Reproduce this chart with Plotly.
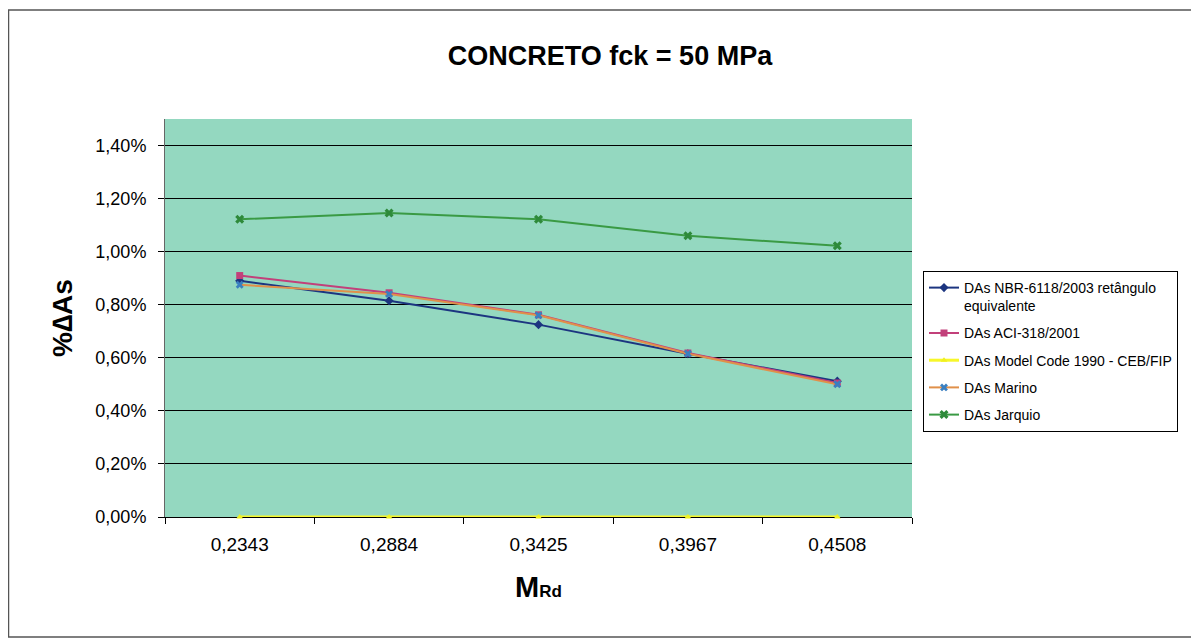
import plotly.graph_objects as go

categories = ["0,2343", "0,2884", "0,3425", "0,3967", "0,4508"]
nbr = [0.0089, 0.00815, 0.00725, 0.00615, 0.00512]
aci = [0.0091, 0.00845, 0.00762, 0.00618, 0.00505]
model_code = [0.0, 0.0, 0.0, 0.0, 0.0]
marino = [0.00875, 0.0084, 0.0076, 0.00615, 0.00500]
jarquio = [0.01122, 0.01146, 0.01122, 0.0106, 0.01022]

FONT = "Arial, Liberation Sans, sans-serif"

fig = go.Figure()
fig.add_trace(go.Scatter(x=categories, y=nbr, mode="lines+markers",
                         name="DAs NBR-6118/2003 retângulo<br>equivalente",
                         legendgroup="a",
                         line=dict(color="#1c3580", width=2),
                         marker=dict(symbol="diamond", size=7, color="#1c3580")))
fig.add_trace(go.Scatter(x=categories, y=aci, mode="lines+markers",
                         name="DAs ACI-318/2001", legendgroup="b",
                         line=dict(color="#c2407a", width=2),
                         marker=dict(symbol="square", size=7, color="#c2407a")))
fig.add_trace(go.Scatter(x=categories, y=model_code, mode="lines+markers",
                         name="DAs Model Code 1990 - CEB/FIP", legendgroup="c",
                         cliponaxis=False,
                         line=dict(color="#f7f72a", width=3),
                         marker=dict(symbol="triangle-up", size=6, color="#f0f020")))
fig.add_trace(go.Scatter(x=categories, y=marino, mode="lines+markers",
                         name="DAs Marino", legendgroup="d",
                         line=dict(color="#e0904a", width=2),
                         marker=dict(symbol="x", size=7, color="#3a7fc0")))
fig.add_trace(go.Scatter(x=categories, y=jarquio, mode="lines+markers",
                         name="DAs Jarquio", legendgroup="e",
                         line=dict(color="#3a9a44", width=2),
                         marker=dict(symbol="x", size=8, color="#2e8a3a")))

OFF = 8  # page body margin
W, H = 1191, 634
L, T = 165 - OFF, 119 - OFF
R = W - (912 - OFF)
B = H - (517 - OFF)
pw, ph = W - L - R, H - T - B


def px_x(x):
    return (x - OFF - L) / pw


def px_y(y):
    return (H - B - (y - OFF)) / ph


fig.update_layout(
    width=W, height=H,
    margin=dict(l=L, r=R, t=T, b=B),
    paper_bgcolor="white",
    plot_bgcolor="#94d8c0",
    separators=",.",
    font=dict(family=FONT, size=18, color="black"),
    title=dict(text="<b>CONCRETO fck = 50 MPa</b>", x=(610 - OFF) / W,
               xanchor="center", xref="container",
               y=1 - (56 - OFF) / H, yanchor="middle", yref="container",
               font=dict(family=FONT, size=27, color="black")),
    showlegend=True,
    legend=dict(x=px_x(923), xanchor="left", y=px_y(271), yanchor="top",
                bgcolor="white", bordercolor="black", borderwidth=1,
                font=dict(family=FONT, size=14, color="black"),
                tracegroupgap=6, itemwidth=30, valign="top"),
    xaxis=dict(type="category", range=[-0.5, 4.5], showgrid=False,
               tickson="boundaries", layer="below traces",
               ticks="outside", ticklen=6, tickcolor="black",
               showline=True, linecolor="black", linewidth=1, mirror=False,
               ticklabelstandoff=10,
               tickfont=dict(family=FONT, size=19),
               title=dict(text="<b>M<span style=\"font-size:17px\">Rd</span></b>",
                          standoff=22,
                          font=dict(family=FONT, size=29))),
    yaxis=dict(range=[0, 0.015], dtick=0.002, tickformat=".2%",
               showgrid=True, gridcolor="black", gridwidth=1,
               ticks="outside", ticklen=6, tickcolor="black",
               showline=True, linecolor="#666666", linewidth=1,
               zeroline=False, ticklabelstandoff=8, layer="below traces",
               tickfont=dict(family=FONT, size=18),
               title=dict(text="<b>%∆As</b>", standoff=14,
                          font=dict(family=FONT, size=28))),
    shapes=[dict(type="rect", xref="paper", yref="paper",
                 x0=px_x(OFF + 0.5), x1=px_x(1195), y0=px_y(637), y1=px_y(10),
                 line=dict(color="#555555", width=1.5), layer="below")],
)

fig.write_html("out.html")
